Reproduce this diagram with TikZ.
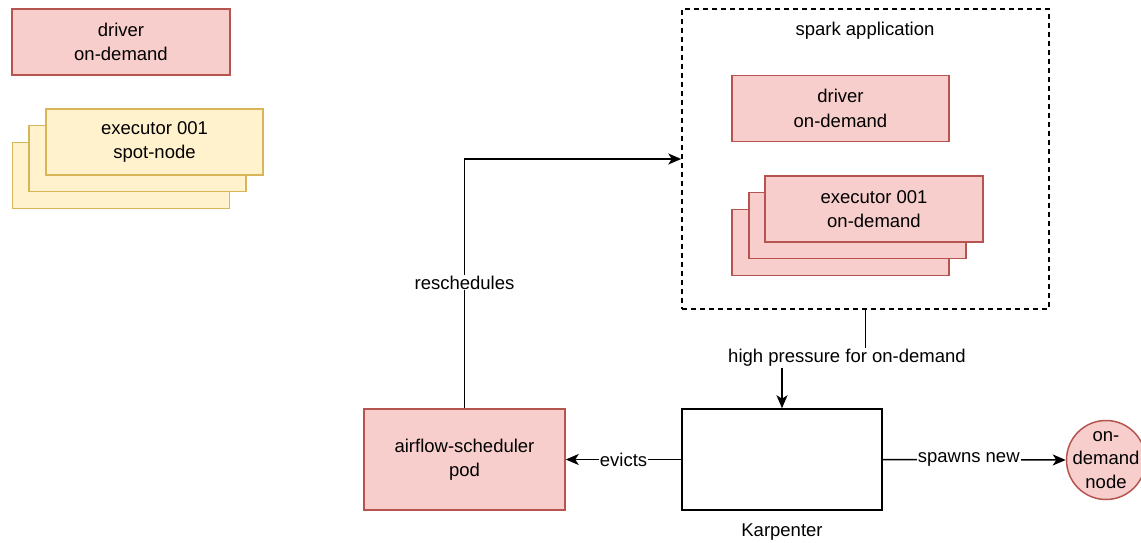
\documentclass[tikz,border=0pt]{standalone}
\usepackage{fontspec}
\setmainfont{Liberation Sans}
\usetikzlibrary{arrows.meta}
\definecolor{redfill}{HTML}{F8CECC}
\definecolor{redline}{HTML}{B85450}
\definecolor{yelfill}{HTML}{FFF2CC}
\definecolor{yelline}{HTML}{D6B656}
\tikzset{
  base/.style={font=\fontsize{18.5}{24.5}\selectfont, align=center, inner sep=0pt},
  redbox/.style={base, draw=redline, fill=redfill, line width=1.5pt, rectangle, minimum width=218pt, minimum height=66pt},
  yelbox/.style={base, draw=yelline, fill=yelfill, line width=1.5pt, rectangle, minimum width=217pt, minimum height=66pt},
  plainbox/.style={base, draw=black, line width=1.5pt, rectangle},
  lbl/.style={base, fill=white, inner sep=1pt},
  txt/.style={base},
  arr/.style={draw=black, line width=1.5pt, -{Stealth[length=13pt,width=11pt,inset=3.5pt]}},
}
\begin{document}
\begin{tikzpicture}[x=1pt,y=-1pt]
\useasboundingbox (0,0) rectangle (1141,543);
% legend
\node[redbox] (ldrv) at (121,42) {driver\\on-demand};
\node[yelbox] (lex3) at (121,175.5) {};
\node[yelbox] (lex2) at (137.5,158.5) {};
\node[yelbox] (lex1) at (154.5,142) {executor 001\\spot-node};
% spark application
\node[plainbox, dash pattern=on 5pt off 4pt, minimum width=367pt, minimum height=300pt] (spark) at (865.5,159) {};
\node[txt] (sparklbl) at (865,31) {spark application};
\node[redbox, minimum width=217pt] (sdrv) at (840.5,108.5) {driver\\on-demand};
\node[redbox, minimum width=217pt] (sex3) at (840.5,242.5) {};
\node[redbox, minimum width=217pt] (sex2) at (857.5,225.5) {};
\node[redbox, minimum width=218pt] (sex1) at (874,209) {executor 001\\on-demand};
% airflow pod
\node[redbox, minimum width=201pt, minimum height=101pt] (pod) at (464.5,459.5) {airflow-scheduler\\pod};
% Karpenter
\node[plainbox, minimum width=200pt, minimum height=101pt] (karp) at (782,459.5) {};
\node[txt] (karplbl) at (782,532) {Karpenter};
% on-demand node
\node[circle, draw=redline, fill=redfill, line width=1.5pt, minimum size=79pt, inner sep=0pt] (odn) at (1106,460) {};
\node[base, font=\fontsize{18.5}{23.5}\selectfont] (odntxt) at (odn.center) {on-\\demand\\node};
% connectors
\draw[arr] (pod.north) |- (spark.west) node[lbl, pos=0.252] {reschedules};
\coordinate (hp1) at (865.5,358);
\coordinate (hp2) at (782,358);
\draw[arr] (spark.south) -- (hp1) -- (hp2) -- (karp.north);
\node[lbl] (hplbl) at (847,358) {high pressure for on-demand};
\draw[arr] (karp.west) -- (pod.east) node[lbl, midway] {evicts};
\draw[arr] (karp.east) -- (odn.west) node[lbl, pos=0.47] {spawns new};
\end{tikzpicture}
\end{document}
